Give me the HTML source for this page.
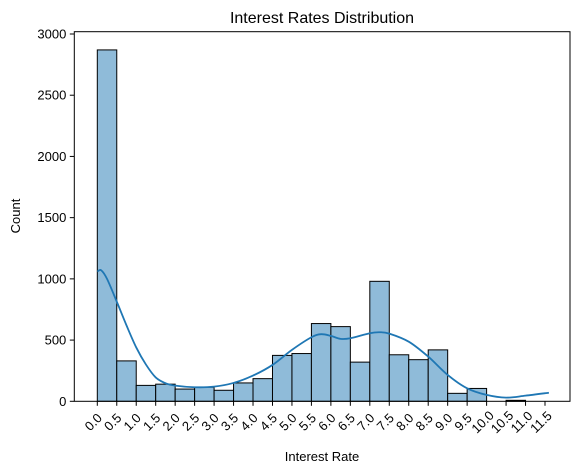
<!DOCTYPE html>
<html><head><meta charset="utf-8"><style>
body{margin:0;background:#fff;}
svg{display:block;font-family:"Liberation Sans","DejaVu Sans",sans-serif;}
</style></head><body>
<svg id="chart" width="580" height="472" viewBox="0 0 580 472" xmlns="http://www.w3.org/2000/svg">
<rect width="580" height="472" fill="#fff"/>
<text x="322" y="23" text-anchor="middle" font-size="16">Interest Rates Distribution</text>
<g id="bars"></g>
<path id="kde" fill="none" stroke="#1f77b4" stroke-width="1.8"/>
<g id="axes"></g>
<text x="322" y="461" text-anchor="middle" font-size="13">Interest Rate</text>
<text transform="translate(20,216) rotate(-90)" text-anchor="middle" font-size="13">Count</text>
</svg>
<script>
const binStarts = [0,0.5,1,1.5,2,2.5,3,3.5,4,4.5,5,5.5,6,6.5,7,7.5,8,8.5,9,9.5,10,10.5,11];
const counts = [2870,330,130,140,100,115,90,150,185,375,390,635,610,320,980,380,340,420,65,105,0,8,0];
const kdeX = [0,0.1,0.25,0.5,0.75,1,1.25,1.5,1.75,2,2.5,3,3.5,4,4.5,5,5.5,5.75,6,6.25,6.5,7,7.25,7.5,8,8.5,9,9.5,10,10.5,11,11.6];
const kdeY = [1060,1070,1000,814,620,440,300,195,148,128,115,120,150,210,297,420,523,548,534,510,515,556,564,553,487,365,215,106,52,30,46,70];
const yTicks = [0,500,1000,1500,2000,2500,3000];
const xTicks = ["0.0","0.5","1.0","1.5","2.0","2.5","3.0","3.5","4.0","4.5","5.0","5.5","6.0","6.5","7.0","7.5","8.0","8.5","9.0","9.5","10.0","10.5","11.0","11.5"];

const L=74.3,R=570,T=31.7,B=401.3;
const x0=97.3, pxPerUnit=(545-97.3)/11.5;
const X=v=>x0+v*pxPerUnit;
const Y=v=>B-v*(B-34)/3000;
const NS="http://www.w3.org/2000/svg";
const bars=document.getElementById('bars');
binStarts.forEach((s,i)=>{
  if(counts[i]<=0) return;
  const r=document.createElementNS(NS,'rect');
  
  
  r.setAttribute('x',X(s));r.setAttribute('width',X(s+0.5)-X(s));
  r.setAttribute('y',Y(counts[i]));r.setAttribute('height',B-Y(counts[i]));
  r.setAttribute('fill','#8fbbd9');r.setAttribute('stroke','#000');r.setAttribute('stroke-width','1');
  bars.appendChild(r);
});
const pts=kdeX.map((v,i)=>[X(v),Y(kdeY[i])]);
let d='M'+pts[0][0]+','+pts[0][1];
for(let i=0;i<pts.length-1;i++){
  const p0=pts[Math.max(0,i-1)],p1=pts[i],p2=pts[i+1],p3=pts[Math.min(pts.length-1,i+2)];
  const c1=[p1[0]+(p2[0]-p0[0])/6,p1[1]+(p2[1]-p0[1])/6];
  const c2=[p2[0]-(p3[0]-p1[0])/6,p2[1]-(p3[1]-p1[1])/6];
  d+=` C${c1[0]},${c1[1]} ${c2[0]},${c2[1]} ${p2[0]},${p2[1]}`;
}
document.getElementById('kde').setAttribute('d',d);
const ax=document.getElementById('axes');
const frame=document.createElementNS(NS,'rect');


frame.setAttribute('x',L);frame.setAttribute('y',T);frame.setAttribute('width',R-L);frame.setAttribute('height',B-T);
frame.setAttribute('fill','none');frame.setAttribute('stroke','#000');frame.setAttribute('stroke-width','1');
ax.appendChild(frame);
yTicks.forEach(t=>{
  const y=Y(t);
  const l=document.createElementNS(NS,'line');
  
  
  l.setAttribute('x1',L-4.5);l.setAttribute('x2',L);l.setAttribute('y1',y);l.setAttribute('y2',y);l.setAttribute('stroke','#000');
  ax.appendChild(l);
  const tx=document.createElementNS(NS,'text');
  
  
  tx.setAttribute('x',L-8);tx.setAttribute('y',y+4.5);tx.setAttribute('text-anchor','end');tx.setAttribute('font-size','13');
  tx.textContent=t;ax.appendChild(tx);
});
xTicks.forEach(lab=>{
  const x=X(parseFloat(lab));
  const l=document.createElementNS(NS,'line');
  
  
  l.setAttribute('x1',x);l.setAttribute('x2',x);l.setAttribute('y1',B);l.setAttribute('y2',B+4.5);l.setAttribute('stroke','#000');
  ax.appendChild(l);
  const tx=document.createElementNS(NS,'text');
  
  
  const cx=x-4, cy=422;
  tx.setAttribute('x',cx);tx.setAttribute('y',cy+4.5);tx.setAttribute('text-anchor','middle');tx.setAttribute('font-size','13');
  tx.setAttribute('transform',`rotate(-45 ${cx} ${cy})`);
  tx.textContent=lab;ax.appendChild(tx);
});
</script>
</body></html>
